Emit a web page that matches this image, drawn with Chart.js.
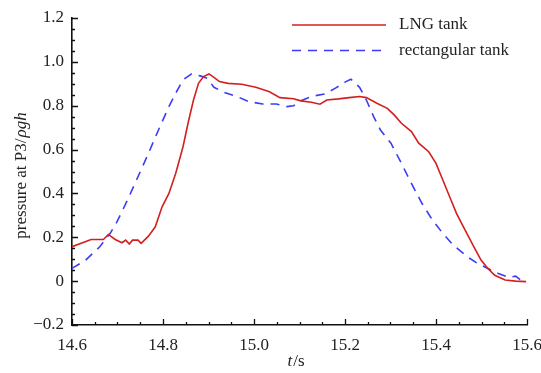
<!DOCTYPE html>
<html>
<head>
<meta charset="utf-8">
<script src="https://cdn.jsdelivr.net/npm/chart.js@4"></script>
<style>
  body { margin: 0; background: #fff; }
  canvas { display: block; }
</style>
</head>
<body>
<canvas id="pressure-chart" width="541" height="373"></canvas>
<script>
// time (s) and pressure / rho g h
var lngTime = [14.600, 14.642, 14.669, 14.680, 14.695, 14.710, 14.718, 14.726, 14.733, 14.745,
  14.752, 14.768, 14.783, 14.798, 14.813, 14.828, 14.844, 14.855, 14.867, 14.878,
  14.889, 14.901, 14.912, 14.924, 14.943, 14.973, 15.004, 15.034, 15.057, 15.087,
  15.103, 15.126, 15.145, 15.160, 15.186, 15.209, 15.232, 15.247, 15.270, 15.293,
  15.308, 15.324, 15.346, 15.362, 15.384, 15.400, 15.415, 15.430, 15.445, 15.464,
  15.483, 15.499, 15.514, 15.529, 15.552, 15.575, 15.598];
var lngPressure = [0.157, 0.190, 0.190, 0.213, 0.190, 0.175, 0.187, 0.169, 0.187, 0.187,
  0.172, 0.205, 0.248, 0.339, 0.400, 0.492, 0.613, 0.720, 0.826, 0.902,
  0.933, 0.945, 0.929, 0.910, 0.902, 0.898, 0.884, 0.864, 0.837, 0.832,
  0.822, 0.816, 0.807, 0.826, 0.831, 0.837, 0.842, 0.837, 0.811, 0.788,
  0.758, 0.720, 0.682, 0.629, 0.590, 0.537, 0.461, 0.385, 0.309, 0.233,
  0.157, 0.096, 0.058, 0.027, 0.005, 0.000, -0.002];

var rectTime = [14.600, 14.630, 14.661, 14.684, 14.699, 14.722, 14.745, 14.768, 14.790, 14.813,
  14.828, 14.844, 14.863, 14.882, 14.897, 14.912, 14.935, 14.966, 14.988, 15.019,
  15.049, 15.072, 15.087, 15.103, 15.126, 15.156, 15.179, 15.202, 15.213, 15.232,
  15.247, 15.263, 15.278, 15.301, 15.324, 15.346, 15.369, 15.392, 15.415, 15.438,
  15.469, 15.491, 15.514, 15.537, 15.560, 15.575, 15.586];
var rectPressure = [0.058, 0.096, 0.157, 0.218, 0.271, 0.370, 0.476, 0.583, 0.689, 0.796,
  0.857, 0.918, 0.945, 0.936, 0.925, 0.884, 0.860, 0.839, 0.819, 0.808,
  0.808, 0.796, 0.800, 0.823, 0.842, 0.854, 0.880, 0.910, 0.921, 0.884,
  0.826, 0.750, 0.689, 0.629, 0.537, 0.446, 0.355, 0.279, 0.218, 0.164,
  0.111, 0.081, 0.058, 0.035, 0.017, 0.023, 0.005];

var seriesNames = ['LNG tank', 'rectangular tank'];
var xTicks = [14.6, 14.8, 15.0, 15.2, 15.4, 15.6];
var yTicks = [-0.2, 0, 0.2, 0.4, 0.6, 0.8, 1.0, 1.2];

var serif = '"Liberation Serif", "Times New Roman", serif';
var red = '#d41f1f';
var blue = '#3c3cf5';

function toPoints(xs, ys) {
  return xs.map(function (x, i) { return { x: x, y: ys[i] }; });
}

// inward major/minor tick marks, legend and axis titles
var decorations = {
  id: 'decorations',
  afterDraw: function (chart) {
    var ctx = chart.ctx;
    var area = chart.chartArea;
    var xs = chart.scales.x, ys = chart.scales.y;
    ctx.save();
    ctx.strokeStyle = '#111';
    ctx.lineWidth = 1.3;
    ctx.beginPath();
    for (var i = 0; i <= 20; i++) {
      var v = xs.min + i * 0.05;
      var px = Math.round(xs.getPixelForValue(v)) + 0.5;
      var len = i % 4 === 0 ? 6 : 3;
      ctx.moveTo(px, area.bottom);
      ctx.lineTo(px, area.bottom - len);
    }
    for (var j = 0; j <= 28; j++) {
      var w = ys.min + j * 0.05;
      var py = Math.round(ys.getPixelForValue(w)) + 0.5;
      var l2 = j % 4 === 0 ? 6 : 3;
      ctx.moveTo(area.left, py);
      ctx.lineTo(area.left + l2, py);
    }
    ctx.stroke();

    // legend
    var items = chart.data.datasets;
    ctx.font = '17px ' + serif;
    ctx.textBaseline = 'middle';
    ctx.textAlign = 'left';
    items.forEach(function (ds, k) {
      var y = 25 + k * 25.5;
      ctx.strokeStyle = ds.borderColor;
      ctx.lineWidth = ds.borderWidth;
      ctx.setLineDash(ds.borderDash || []);
      ctx.beginPath();
      ctx.moveTo(292, y);
      ctx.lineTo(386, y);
      ctx.stroke();
      ctx.setLineDash([]);
      ctx.fillStyle = '#222';
      ctx.fillText(ds.label, 399, y);
    });

    // x title: t/s
    ctx.fillStyle = '#222';
    ctx.textBaseline = 'alphabetic';
    var cx = (area.left + area.right) / 2 - 4;
    ctx.font = 'italic 17px ' + serif;
    var tW = ctx.measureText('t').width;
    ctx.font = '17px ' + serif;
    var sW = ctx.measureText('/s').width;
    var x0 = cx - (tW + sW) / 2;
    ctx.font = 'italic 17px ' + serif;
    ctx.fillText('t', x0, 366);
    ctx.font = '17px ' + serif;
    ctx.fillText('/s', x0 + tW + 1, 366);

    // y title: pressure at P3/ρgh
    ctx.translate(26, 176);
    ctx.rotate(-Math.PI / 2);
    ctx.font = '17px ' + serif;
    var a = 'pressure at P3/';
    var aW = ctx.measureText(a).width;
    ctx.font = 'italic 17px ' + serif;
    var b = '\u03c1gh';
    var bW = ctx.measureText(b).width;
    var start = -(aW + bW) / 2;
    ctx.font = '17px ' + serif;
    ctx.fillText(a, start, 0);
    ctx.font = 'italic 17px ' + serif;
    ctx.fillText(b, start + aW + 1, 0);
    ctx.restore();
  }
};

var ctx = document.getElementById('pressure-chart').getContext('2d');
var chart = new Chart(ctx, {
  type: 'line',
  data: {
    datasets: [{
      label: seriesNames[0],
      data: toPoints(lngTime, lngPressure),
      borderColor: red,
      borderWidth: 1.6,
      pointRadius: 0,
      tension: 0,
      fill: false
    }, {
      label: seriesNames[1],
      data: toPoints(rectTime, rectPressure),
      borderColor: blue,
      borderWidth: 1.6,
      borderDash: [9, 7],
      pointRadius: 0,
      tension: 0,
      fill: false
    }]
  },
  options: {
    responsive: false,
    animation: false,
    layout: { padding: { top: 18, right: 14, left: 0, bottom: 0 } },
    plugins: { legend: { display: false }, tooltip: { enabled: false } },
    scales: {
      x: {
        type: 'linear',
        min: xTicks[0],
        max: xTicks[xTicks.length - 1],
        afterFit: function (s) {
          s.height = 48;
          s.paddingLeft = 0;
          s.paddingRight = 0;
        },
        afterBuildTicks: function (s) { s.ticks = xTicks.map(function (v) { return { value: v }; }); },
        grid: { display: false, drawTicks: false },
        border: { display: true, color: '#111', width: 1.6 },
        ticks: {
          padding: 10,
          color: '#222',
          font: { family: serif, size: 17 },
          maxRotation: 0,
          callback: function (v) { return Number(v).toFixed(1); }
        }
      },
      y: {
        type: 'linear',
        min: yTicks[0],
        max: yTicks[yTicks.length - 1],
        afterFit: function (s) {
          s.width = 72;
          s.paddingTop = 0;
          s.paddingBottom = 0;
        },
        afterBuildTicks: function (s) { s.ticks = yTicks.map(function (v) { return { value: v }; }); },
        grid: { display: false, drawTicks: false },
        border: { display: true, color: '#111', width: 1.6 },
        ticks: {
          padding: 8,
          color: '#222',
          font: { family: serif, size: 17 },
          callback: function (v) {
            if (Math.abs(v) < 1e-9) return '0';
            if (v < 0) return '\u2212' + Math.abs(v).toFixed(1);
            return Number(v).toFixed(1);
          }
        }
      }
    }
  },
  plugins: [decorations]
});
</script>
</body>
</html>
